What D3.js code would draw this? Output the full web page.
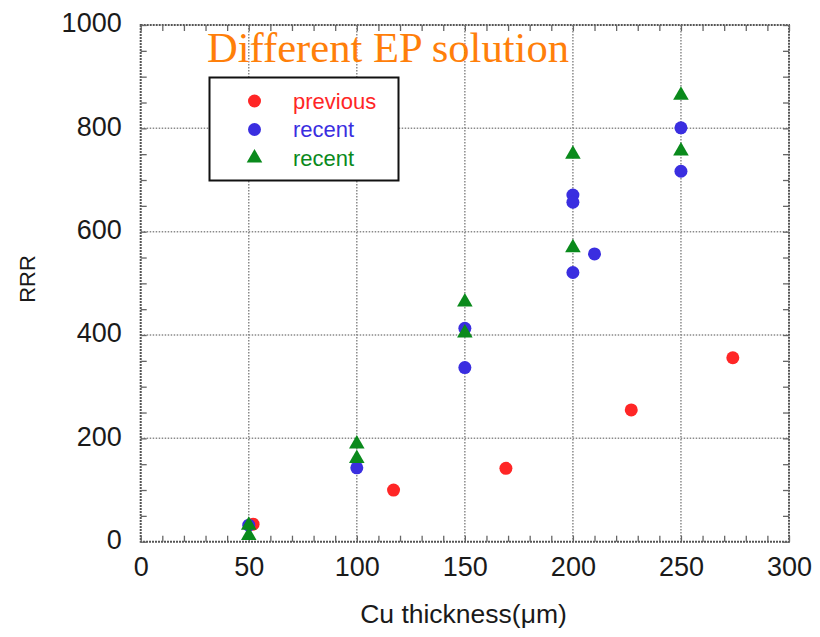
<!DOCTYPE html>
<html>
<head>
<meta charset="utf-8">
<script src="https://cdn.jsdelivr.net/npm/d3@7"></script>
<style>
  html, body { margin: 0; padding: 0; background: #fff; }
  svg { display: block; }
</style>
</head>
<body>
<svg id="chart" width="820" height="637"></svg>
<script>
// ---- data ----
const title = "Different EP solution";
const xLabel = "Cu thickness(\u03bcm)";
const yLabel = "RRR";
const xTicks = [0, 50, 100, 150, 200, 250, 300];
const yTicks = [0, 200, 400, 600, 800, 1000];
const legendLabels = ["previous", "recent", "recent"];

const previousX = [52, 117, 169, 227, 274];
const previousY = [34, 100, 142, 255, 356];

const recentCircleX = [50, 100, 150, 150, 200, 200, 200, 210, 250, 250];
const recentCircleY = [32, 143, 413, 337, 671, 657, 521, 557, 801, 717];

const recentTriX = [50, 50, 100, 100, 150, 150, 200, 200, 250, 250];
const recentTriY = [32, 12, 189, 161, 464, 404, 750, 569, 864, 756];

// ---- layout ----
const svg = d3.select("#chart");
const L = 140.7, R = 789, T = 25, B = 541.7;
const x = d3.scaleLinear().domain([0, 300]).range([L, R]);
const y = d3.scaleLinear().domain([0, 1000]).range([B, T]);

const cRed = "#ff2626", cBlue = "#3a2ee0", cGreen = "#0a8a1c", cOrange = "#ff7f0a";
const tickFont = "'Liberation Sans', Arial, sans-serif";

// grid lines
const grid = svg.append("g");
grid.selectAll("line.gx").data(xTicks.slice(1, -1)).join("line")
  .attr("x1", d => x(d)).attr("x2", d => x(d)).attr("y1", T).attr("y2", B)
  .attr("stroke", "#8a8a8a").attr("stroke-width", 1.5).attr("stroke-dasharray", "1.5,1.5");
grid.selectAll("line.gy").data(yTicks.slice(1, -1)).join("line")
  .attr("x1", L).attr("x2", R).attr("y1", d => y(d)).attr("y2", d => y(d))
  .attr("stroke", "#8a8a8a").attr("stroke-width", 1.5).attr("stroke-dasharray", "1.5,1.5");

// frame
svg.append("rect").attr("x", L).attr("y", T).attr("width", R - L).attr("height", B - T)
  .attr("fill", "none").attr("stroke", "#555").attr("stroke-width", 2).attr("stroke-dasharray", "2,1");

// minor/major inward ticks
const xMinor = d3.range(0, 301, 10);
const yMinor = d3.range(0, 1001, 50);
function styleTicks(g) {
  g.select(".domain").remove();
  g.selectAll(".tick line").attr("stroke", "#666").attr("stroke-width", 1.3);
  g.selectAll(".tick text").remove();
}
svg.append("g").attr("transform", `translate(0,${B})`)
  .call(d3.axisBottom(x).tickValues(xMinor).tickSize(-6)).call(styleTicks);
svg.append("g").attr("transform", `translate(0,${T})`)
  .call(d3.axisTop(x).tickValues(xMinor).tickSize(-6)).call(styleTicks);
svg.append("g").attr("transform", `translate(${L},0)`)
  .call(d3.axisLeft(y).tickValues(yMinor).tickSize(-6)).call(styleTicks);
svg.append("g").attr("transform", `translate(${R},0)`)
  .call(d3.axisRight(y).tickValues(yMinor).tickSize(-6)).call(styleTicks);

// tick labels
const xAxisG = svg.append("g").attr("transform", `translate(0,${B})`)
  .call(d3.axisBottom(x).tickValues(xTicks).tickSize(0).tickPadding(15).tickFormat(d3.format("d")));
xAxisG.select(".domain").remove();
xAxisG.selectAll("text").attr("font-family", tickFont).attr("font-size", 27).attr("fill", "#1a1a1a");

const yAxisG = svg.append("g").attr("transform", `translate(${L},0)`)
  .call(d3.axisLeft(y).tickValues(yTicks).tickSize(0).tickPadding(19).tickFormat(d3.format("d")));
yAxisG.select(".domain").remove();
yAxisG.selectAll("text").attr("font-family", tickFont).attr("font-size", 27).attr("fill", "#1a1a1a").attr("dy", "0.25em");

// axis titles
svg.append("text").attr("x", (357 + 570) / 2).attr("y", 623).attr("text-anchor", "middle")
  .attr("font-family", tickFont).attr("font-size", 26.5).attr("fill", "#1a1a1a").text(xLabel);
svg.append("text").attr("transform", "translate(35,279) rotate(-90)").attr("text-anchor", "middle")
  .attr("font-family", tickFont).attr("font-size", 22).attr("fill", "#1a1a1a").text(yLabel);

// title
svg.append("text").attr("x", 207).attr("y", 62)
  .attr("font-family", "'Liberation Serif', 'Times New Roman', serif").attr("font-size", 42.6)
  .attr("fill", cOrange).text(title);

// data points
const triPath = d3.symbol(d3.symbolTriangle, 105)();
svg.append("g").selectAll("circle").data(d3.zip(previousX, previousY)).join("circle")
  .attr("cx", d => x(d[0])).attr("cy", d => y(d[1])).attr("r", 6.5).attr("fill", cRed);
svg.append("g").selectAll("circle").data(d3.zip(recentCircleX, recentCircleY)).join("circle")
  .attr("cx", d => x(d[0])).attr("cy", d => y(d[1])).attr("r", 6.5).attr("fill", cBlue);
svg.append("g").selectAll("path").data(d3.zip(recentTriX, recentTriY)).join("path")
  .attr("d", triPath).attr("transform", d => `translate(${x(d[0])},${y(d[1])})`).attr("fill", cGreen);

// legend
const lg = svg.append("g");
lg.append("rect").attr("x", 209.5).attr("y", 77.5).attr("width", 189).attr("height", 103)
  .attr("fill", "#fff").attr("stroke", "#111").attr("stroke-width", 2);
const legendColors = [cRed, cBlue, cGreen];
const legendY = [101, 129.5, 158];
legendLabels.forEach((lab, i) => {
  if (i < 2) {
    lg.append("circle").attr("cx", 254.5).attr("cy", legendY[i]).attr("r", 6.5).attr("fill", legendColors[i]);
  } else {
    lg.append("path").attr("d", triPath).attr("transform", `translate(254.5,${legendY[i]})`).attr("fill", legendColors[i]);
  }
  lg.append("text").attr("x", 293).attr("y", legendY[i] + 7.5)
    .attr("font-family", tickFont).attr("font-size", 22).attr("fill", legendColors[i]).text(lab);
});
</script>
</body>
</html>
